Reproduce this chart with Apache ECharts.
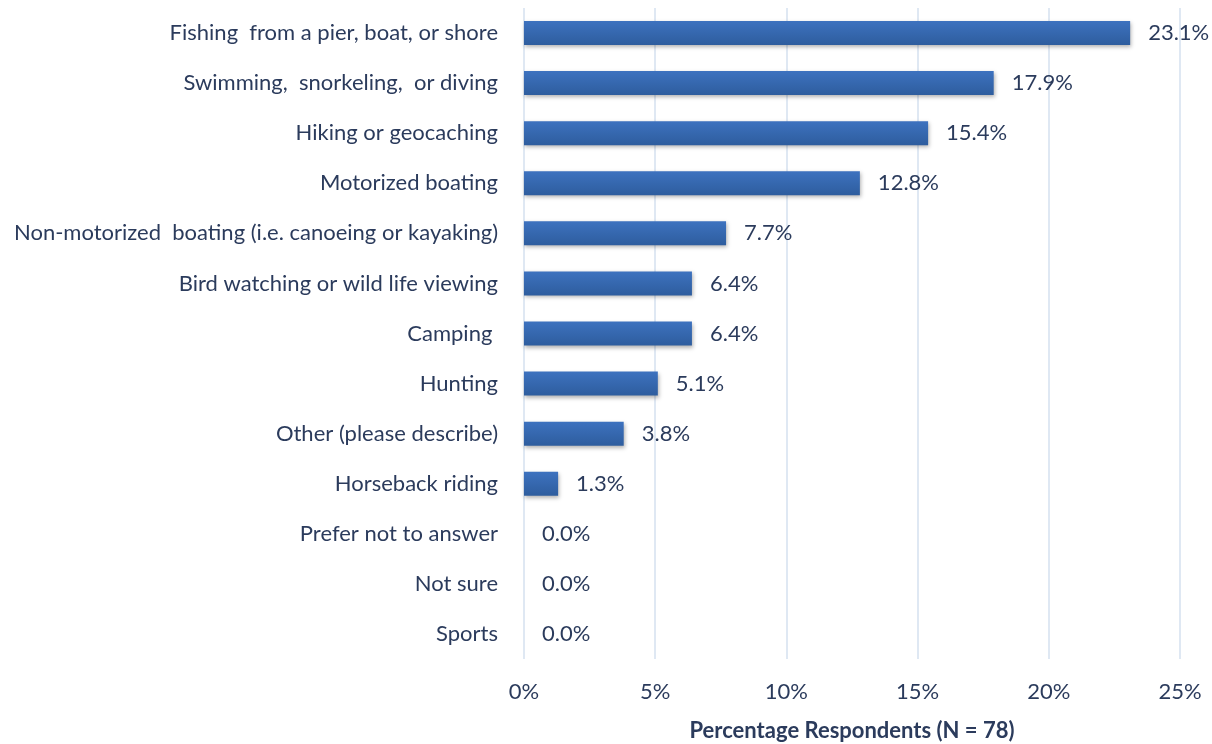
<!DOCTYPE html>
<html><head><meta charset="utf-8">
<script src="https://cdn.jsdelivr.net/npm/echarts@6/dist/echarts.min.js"></script>
<style>html,body{margin:0;padding:0;background:#fff}#c{width:1212px;height:744px}</style>
</head><body><div id="c"></div>
<script>
const categories = [
  "Fishing  from a pier, boat, or shore",
  "Swimming,  snorkeling,  or diving",
  "Hiking or geocaching",
  "Motorized boating",
  "Non-motorized  boating (i.e. canoeing or kayaking)",
  "Bird watching or wild life viewing",
  "Camping ",
  "Hunting",
  "Other (please describe)",
  "Horseback riding",
  "Prefer not to answer",
  "Not sure",
  "Sports"
];
const values = [23.1, 17.9, 15.4, 12.8, 7.7, 6.4, 6.4, 5.1, 3.8, 1.3, 0.0, 0.0, 0.0];
const xTicks = [0, 5, 10, 15, 20, 25];
const axisTitle = "Percentage Respondents (N = 78)";

const textColor = '#2b3b5c';
const font = 'Lato, "Open Sans", sans-serif';
const fs = 22;
const chart = echarts.init(document.getElementById('c'), null, {renderer: 'canvas'});
chart.setOption({
  animation: false,
  grid: {left: 524, right: 32, top: 8, bottom: 85, containLabel: false, outerBoundsMode: 'none'},
  xAxis: {
    type: 'value', min: xTicks[0], max: xTicks[xTicks.length - 1], interval: 5,
    axisLine: {show: false}, axisTick: {show: false},
    splitLine: {show: true, lineStyle: {color: '#d5e0ef', width: 1.5}},
    axisLabel: {formatter: v => v + '%', color: textColor, fontSize: fs, fontFamily: font, margin: 22},
    name: axisTitle, nameLocation: 'middle', nameGap: 61,
    nameTextStyle: {color: textColor, fontSize: fs, fontWeight: 'bold', fontFamily: font}
  },
  yAxis: {
    type: 'category', data: categories, inverse: true,
    axisLine: {show: false}, axisTick: {show: false},
    axisLabel: {color: textColor, fontSize: fs, fontFamily: font, margin: 26}
  },
  series: [{
    type: 'bar', data: values, barWidth: 24,
    itemStyle: {
      color: new echarts.graphic.LinearGradient(0, 0, 0, 1, [
        {offset: 0, color: '#3d72bf'}, {offset: 1, color: '#2e5d9e'}
      ]),
      shadowColor: 'rgba(0,0,0,0.3)', shadowBlur: 4, shadowOffsetY: 2, shadowOffsetX: 1
    },
    label: {
      show: true, position: 'right', distance: 18,
      formatter: p => p.value.toFixed(1) + '%',
      color: textColor, fontSize: fs, fontFamily: font
    }
  }]
});
</script></body></html>
